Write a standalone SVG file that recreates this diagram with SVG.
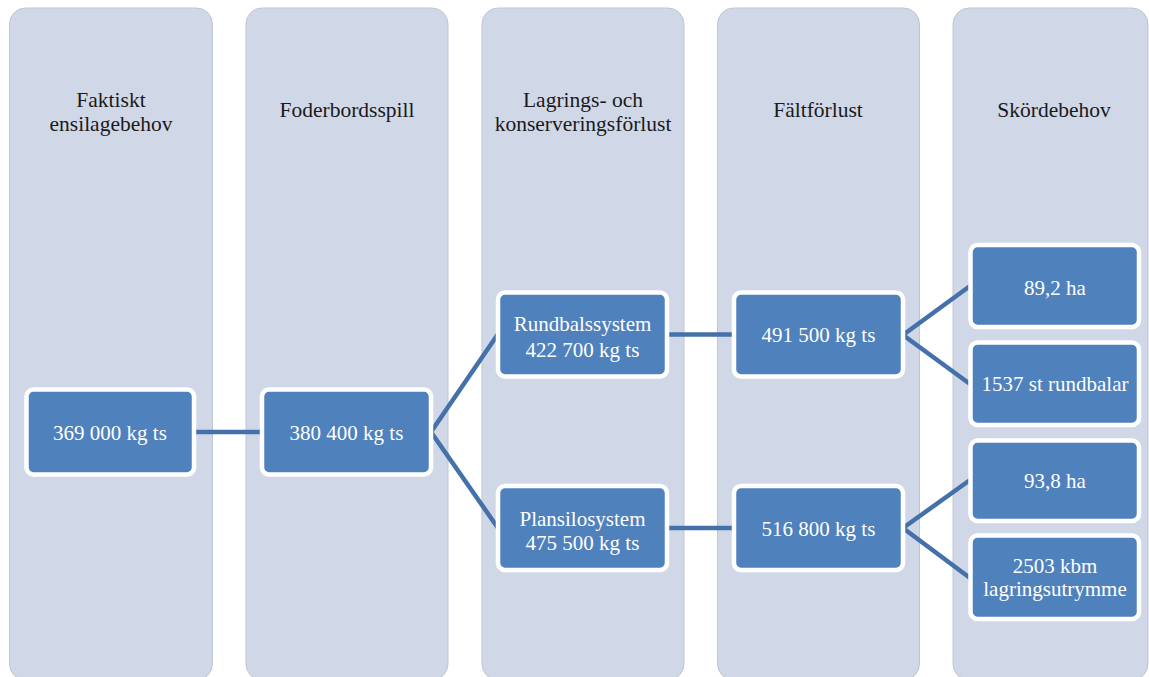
<svg xmlns="http://www.w3.org/2000/svg" width="1149" height="677" viewBox="0 0 1149 677">
<style>
.col{fill:#D0D8E8;stroke:#BFC6D3;stroke-width:1}
.hdr{font-family:"Liberation Serif","Times New Roman",serif;font-size:21.5px;fill:#1a1a1a;text-anchor:middle}
.box{fill:#4F81BD;stroke:#FFFFFF;stroke-width:4.5}
.lbl{font-family:"Liberation Serif","Times New Roman",serif;font-size:21px;fill:#FFFFFF;text-anchor:middle}
.con{stroke:#4571AA;stroke-width:4.5;fill:none}
</style>
<rect width="1149" height="677" fill="#FFFFFF"/>
<g id="columns">
<g id="col1"><rect class="col" x="9.5" y="8" width="203" height="672" rx="16"/><text class="hdr" x="111" y="107">Faktiskt</text><text class="hdr" x="111" y="131">ensilagebehov</text></g>
<g id="col2"><rect class="col" x="246" y="8" width="202" height="672" rx="16"/><text class="hdr" x="347" y="117">Foderbordsspill</text></g>
<g id="col3"><rect class="col" x="482" y="8" width="202" height="672" rx="16"/><text class="hdr" x="583" y="107">Lagrings- och</text><text class="hdr" x="583" y="131">konserveringsförlust</text></g>
<g id="col4"><rect class="col" x="717.5" y="8" width="202" height="672" rx="16"/><text class="hdr" x="818" y="117">Fältförlust</text></g>
<g id="col5"><rect class="col" x="953" y="8" width="195" height="672" rx="16"/><text class="hdr" x="1054" y="117">Skördebehov</text></g>
</g>
<g id="connectors">
<line class="con" x1="194" y1="432" x2="262" y2="432"/>
<polyline class="con" points="498,334 431,432 498,528"/>
<line class="con" x1="667" y1="334.5" x2="734" y2="334.5"/>
<line class="con" x1="667" y1="528" x2="734" y2="528"/>
<polyline class="con" points="970,286 903,335 970,384"/>
<polyline class="con" points="970,480 903,528 970,578"/>
</g>
<g id="n1"><rect class="box" x="26.5" y="389.5" width="167.5" height="85" rx="7"/><text class="lbl" x="110" y="440">369 000 kg ts</text></g>
<g id="n2"><rect class="box" x="262" y="389.5" width="169" height="85" rx="7"/><text class="lbl" x="346.5" y="440">380 400 kg ts</text></g>
<g id="n3"><rect class="box" x="498" y="292.5" width="169" height="84" rx="7"/><text class="lbl" x="582.5" y="331">Rundbalssystem</text><text class="lbl" x="582.5" y="357">422 700 kg ts</text></g>
<g id="n4"><rect class="box" x="498" y="486" width="169" height="84" rx="7"/><text class="lbl" x="582.5" y="526">Plansilosystem</text><text class="lbl" x="582.5" y="550">475 500 kg ts</text></g>
<g id="n5"><rect class="box" x="734" y="292.5" width="169" height="84" rx="7"/><text class="lbl" x="818.5" y="342">491 500 kg ts</text></g>
<g id="n6"><rect class="box" x="734" y="486" width="169" height="84" rx="7"/><text class="lbl" x="818.5" y="536">516 800 kg ts</text></g>
<g id="n7"><rect class="box" x="970.5" y="245" width="168.5" height="82" rx="7"/><text class="lbl" x="1055" y="295">89,2 ha</text></g>
<g id="n8"><rect class="box" x="970.5" y="342.5" width="168.5" height="82.5" rx="7"/><text class="lbl" x="1055" y="391">1537 st rundbalar</text></g>
<g id="n9"><rect class="box" x="970.5" y="440.5" width="168.5" height="80.5" rx="7"/><text class="lbl" x="1055" y="488">93,8 ha</text></g>
<g id="n10"><rect class="box" x="970.5" y="535.5" width="168.5" height="83.5" rx="7"/><text class="lbl" x="1055" y="573">2503 kbm</text><text class="lbl" x="1055" y="596">lagringsutrymme</text></g>
</svg>
